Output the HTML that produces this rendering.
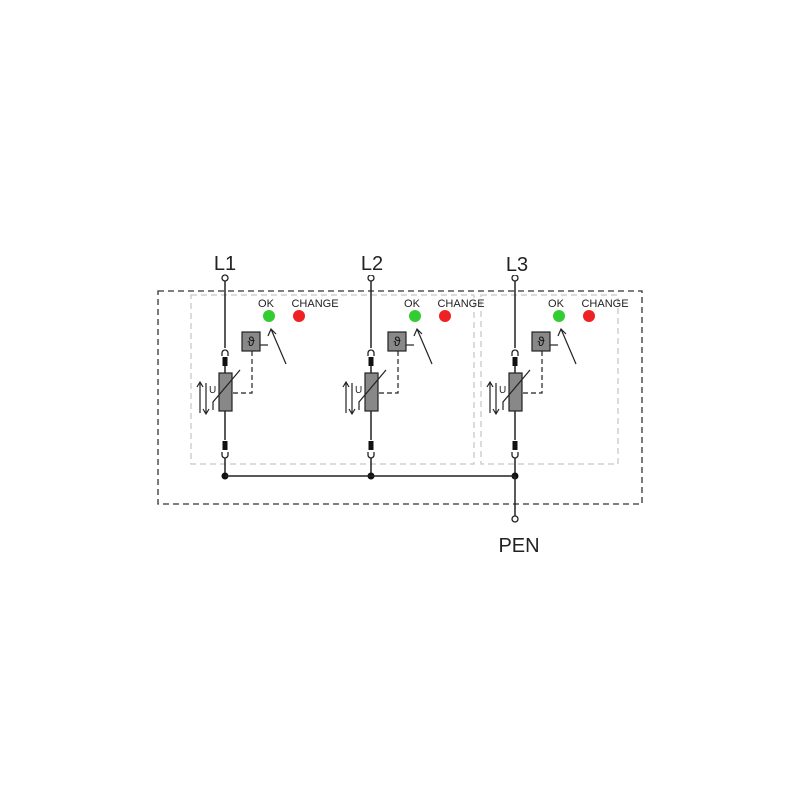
<!DOCTYPE html>
<html><head><style>body{margin:0;background:#fff}svg{display:block}</style></head><body>
<svg width="800" height="800" viewBox="0 0 800 800" xmlns="http://www.w3.org/2000/svg" font-family="Liberation Sans, sans-serif">
<rect x="158" y="291" width="484" height="213" fill="none" stroke="#333" stroke-width="1.3" stroke-dasharray="6,4"/>
<rect x="191" y="295" width="283" height="169" fill="none" stroke="#c8c8c8" stroke-width="1.3" stroke-dasharray="6,4"/>
<rect x="481" y="295" width="137" height="169" fill="none" stroke="#c8c8c8" stroke-width="1.3" stroke-dasharray="6,4"/>
<defs>
<g id="m">
<text x="225" y="270" font-size="20" text-anchor="middle" fill="#222">L1</text>
<circle cx="225" cy="278" r="3" fill="#fff" stroke="#222" stroke-width="1.3"/>
<line x1="225" y1="281" x2="225" y2="348" stroke="#222" stroke-width="1.5"/>
<path d="M222,356 v-3 a3,3 0 0 1 6,0 v3" fill="none" stroke="#222" stroke-width="1.3"/>
<rect x="222.5" y="357" width="5" height="9" fill="#111"/>
<line x1="225" y1="366" x2="225" y2="440" stroke="#222" stroke-width="1.5"/>
<rect x="219" y="373" width="13" height="38" fill="#888" stroke="#222" stroke-width="1.2"/>
<path d="M213,410 v-8 L240,370" fill="none" stroke="#222" stroke-width="1.2"/>
<text x="209" y="393" font-size="10" fill="#222">U</text>
<path d="M200,413 v-30 M197,387 l3,-5 l3,5 M206,383 v30 M203,409 l3,5 l3,-5" fill="none" stroke="#222" stroke-width="1.2"/>
<rect x="222.5" y="441" width="5" height="9" fill="#111"/>
<path d="M222,452 v3 a3,3 0 0 0 6,0 v-3" fill="none" stroke="#222" stroke-width="1.3"/>
<line x1="225" y1="458" x2="225" y2="476" stroke="#222" stroke-width="1.5"/>
<circle cx="225" cy="476" r="3.5" fill="#111"/>
<rect x="242" y="332" width="18" height="19" fill="#888" stroke="#222" stroke-width="1.2"/>
<text x="251" y="346" font-size="13" text-anchor="middle" fill="#111">ϑ</text>
<line x1="260" y1="345" x2="268" y2="345" stroke="#222" stroke-width="1.2"/>
<path d="M252,351 v42 h-20" fill="none" stroke="#222" stroke-width="1.2" stroke-dasharray="5,3"/>
<path d="M286,364 L271,329 M268,336 l3,-7 l5,5" fill="none" stroke="#222" stroke-width="1.2"/>
<text x="266" y="307" font-size="11" text-anchor="middle" fill="#222">OK</text>
<circle cx="269" cy="316" r="6" fill="#3c3"/>
<text x="315" y="307" font-size="11" text-anchor="middle" fill="#222">CHANGE</text>
<circle cx="299" cy="316" r="6" fill="#e22"/>
</g>
</defs>
<use href="#m"/>
<use href="#m" transform="translate(146,0)"/>
<use href="#m" transform="translate(290,0)"/>
<rect x="350" y="250" width="40" height="25" fill="#fff"/>
<rect x="495" y="250" width="40" height="25" fill="#fff"/>
<text x="372" y="270" font-size="20" text-anchor="middle" fill="#222">L2</text>
<text x="517" y="271" font-size="20" text-anchor="middle" fill="#222">L3</text>
<line x1="225" y1="476" x2="515" y2="476" stroke="#222" stroke-width="1.5"/>
<line x1="515" y1="476" x2="515" y2="516" stroke="#222" stroke-width="1.5"/>
<circle cx="515" cy="519" r="3" fill="#fff" stroke="#222" stroke-width="1.3"/>
<text x="519" y="552" font-size="20" text-anchor="middle" fill="#222">PEN</text>
</svg>
</body></html>
